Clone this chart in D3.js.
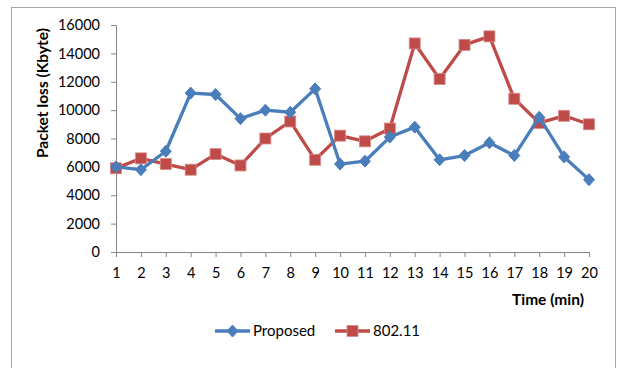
<!DOCTYPE html>
<html>
<head>
<meta charset="utf-8">
<script src="https://cdn.jsdelivr.net/npm/d3@7"></script>
<style>
  html, body { margin: 0; padding: 0; background: #fff; }
  svg { display: block; }
  text { font-family: Lato, "Open Sans", sans-serif; fill: #000; }
</style>
</head>
<body>
<svg id="chart" width="619" height="368"></svg>
<script>
// Packet loss per minute, two schemes
const minutes = [1, 2, 3, 4, 5, 6, 7, 8, 9, 10, 11, 12, 13, 14, 15, 16, 17, 18, 19, 20];
const proposed = [6000, 5800, 7100, 11200, 11100, 9400, 10000, 9850, 11500, 6200,
                  6400, 8100, 8800, 6500, 6800, 7700, 6800, 9500, 6700, 5100];
const ieee80211 = [5900, 6600, 6200, 5800, 6900, 6100, 8000, 9200, 6500, 8200,
                   7800, 8700, 14700, 12200, 14600, 15200, 10800, 9100, 9600, 9000];
const yTicks = [0, 2000, 4000, 6000, 8000, 10000, 12000, 14000, 16000];
const seriesNames = ["Proposed", "802.11"];

const blue = "#4a7ebb";
const red = "#be4b48";
const axisColor = "#868686";

const svg = d3.select("#chart");

// chart frame
svg.append("rect")
  .attr("x", 11.5).attr("y", 7.5)
  .attr("width", 604).attr("height", 380)
  .attr("fill", "#fff")
  .attr("stroke", "#a6a6a6").attr("stroke-width", 1);

const x = d3.scalePoint().domain(minutes).range([116, 589]);
const y = d3.scaleLinear().domain([0, 16000]).range([252, 25]);

// y axis
const yAxis = svg.append("g")
  .attr("transform", "translate(116,0)")
  .call(d3.axisLeft(y).tickValues(yTicks).tickSize(5).tickPadding(11).tickFormat(d3.format("d")));
yAxis.selectAll("text").style("font-size", "14.5px").attr("fill", "#000");

// x axis
const xAxis = svg.append("g")
  .attr("transform", "translate(0,252)")
  .call(d3.axisBottom(x).tickSize(5).tickPadding(11));
xAxis.selectAll("text").style("font-size", "14.5px").attr("fill", "#000");

svg.selectAll(".domain").attr("stroke", axisColor);
svg.selectAll(".tick line").attr("stroke", axisColor);
svg.selectAll(".domain").attr("d", function () {
  return d3.select(this).attr("d").replace(/M([\d.]+),6V0H([\d.]+)V6/, "M$1,0H$2")
    .replace(/M-6,([\d.]+)H0V([\d.]+)H-6/, "M0,$1V$2");
});

// axis titles
svg.append("text")
  .attr("transform", "translate(48,93) rotate(-90)")
  .attr("text-anchor", "middle")
  .style("font-size", "15.5px").style("font-weight", "bold")
  .text("Packet loss (Kbyte)");

svg.append("text")
  .attr("x", 548).attr("y", 305)
  .attr("text-anchor", "middle")
  .style("font-size", "15.5px").style("font-weight", "bold")
  .text("Time (min)");

const line = d3.line().x((d, i) => x(minutes[i])).y(d => y(d));

function diamond(g, cx, cy, color) {
  g.append("path")
    .attr("d", `M${cx},${cy - 6}L${cx + 5.5},${cy}L${cx},${cy + 6}L${cx - 5.5},${cy}Z`)
    .attr("fill", color).attr("stroke", color).attr("stroke-width", 1);
}
function square(g, cx, cy, color) {
  g.append("rect")
    .attr("x", cx - 5.5).attr("y", cy - 5.5)
    .attr("width", 11).attr("height", 11)
    .attr("fill", color).attr("stroke", "#d88a88").attr("stroke-width", 0.8);
}

// 802.11 series
const gRed = svg.append("g");
gRed.append("path").datum(ieee80211)
  .attr("d", line).attr("fill", "none")
  .attr("stroke", red).attr("stroke-width", 3.3).attr("stroke-linejoin", "round");
ieee80211.forEach((v, i) => square(gRed, x(minutes[i]), y(v), red));

// Proposed series
const gBlue = svg.append("g");
gBlue.append("path").datum(proposed)
  .attr("d", line).attr("fill", "none")
  .attr("stroke", blue).attr("stroke-width", 3.3).attr("stroke-linejoin", "round");
proposed.forEach((v, i) => diamond(gBlue, x(minutes[i]), y(v), blue));

// legend
const legend = svg.append("g");
const items = [
  { name: seriesNames[0], color: blue, x0: 215, mark: diamond },
  { name: seriesNames[1], color: red, x0: 335, mark: square }
];
items.forEach(it => {
  legend.append("line")
    .attr("x1", it.x0).attr("x2", it.x0 + 35)
    .attr("y1", 331).attr("y2", 331)
    .attr("stroke", it.color).attr("stroke-width", 3.3);
  it.mark(legend, it.x0 + 17.5, 331, it.color);
  legend.append("text")
    .attr("x", it.x0 + 38).attr("y", 336)
    .style("font-size", "15px")
    .text(it.name);
});
</script>
</body>
</html>
